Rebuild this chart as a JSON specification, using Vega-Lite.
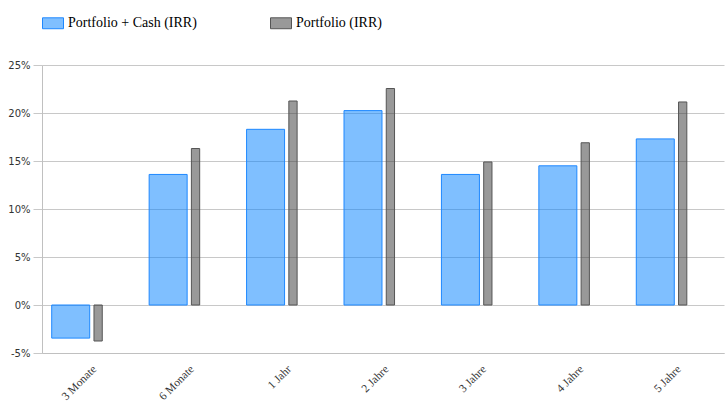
{
  "$schema": "https://vega.github.io/schema/vega-lite/v6.json",
  "width": 682,
  "height": 288,
  "autosize": "none",
  "padding": {"left": 42, "top": 65, "right": 4, "bottom": 50},
  "background": "white",
  "config": {
    "view": {"stroke": null},
    "legend": {"labelFont": "Liberation Serif", "labelFontSize": 14, "labelColor": "#000000"}
  },
  "data": {
    "values": [
      {"period": "3 Monate", "series": "Portfolio + Cash (IRR)", "irr": -3.45},
      {"period": "3 Monate", "series": "Portfolio (IRR)", "irr": -3.75},
      {"period": "6 Monate", "series": "Portfolio + Cash (IRR)", "irr": 13.6},
      {"period": "6 Monate", "series": "Portfolio (IRR)", "irr": 16.3},
      {"period": "1 Jahr", "series": "Portfolio + Cash (IRR)", "irr": 18.3},
      {"period": "1 Jahr", "series": "Portfolio (IRR)", "irr": 21.25},
      {"period": "2 Jahre", "series": "Portfolio + Cash (IRR)", "irr": 20.25},
      {"period": "2 Jahre", "series": "Portfolio (IRR)", "irr": 22.55},
      {"period": "3 Jahre", "series": "Portfolio + Cash (IRR)", "irr": 13.6},
      {"period": "3 Jahre", "series": "Portfolio (IRR)", "irr": 14.9},
      {"period": "4 Jahre", "series": "Portfolio + Cash (IRR)", "irr": 14.5},
      {"period": "4 Jahre", "series": "Portfolio (IRR)", "irr": 16.9},
      {"period": "5 Jahre", "series": "Portfolio + Cash (IRR)", "irr": 17.3},
      {"period": "5 Jahre", "series": "Portfolio (IRR)", "irr": 21.15}
    ]
  },
  "encoding": {
    "x": {
      "field": "period", "type": "nominal", "sort": null, "title": null,
      "scale": {"paddingInner": 0, "paddingOuter": 0},
      "axis": {
        "labelAngle": -45, "labelFont": "Liberation Serif", "labelFontSize": 11.5,
        "labelColor": "#333333", "labelPadding": 10, "ticks": false,
        "domainColor": "#c0c0c0", "grid": false
      }
    },
    "y": {
      "field": "irr", "type": "quantitative", "title": null,
      "scale": {"domain": [-5, 25], "nice": false, "zero": false},
      "axis": {
        "values": [-5, 0, 5, 10, 15, 20, 25],
        "labelExpr": "datum.value + '%'",
        "labelFont": "DejaVu Sans", "labelFontSize": 10, "labelColor": "#333333",
        "tickSize": 9, "tickColor": "#c8c8c8", "labelPadding": 3,
        "gridColor": "#c8c8c8", "domainColor": "#c0c0c0"
      }
    }
  },
  "layer": [
    {
      "transform": [{"filter": "datum.series === 'Portfolio + Cash (IRR)'"}],
      "mark": {"type": "bar", "width": {"band": 0.39}, "xOffset": -20, "fillOpacity": 0.5, "strokeWidth": 1},
      "encoding": {
        "fill": {
          "field": "series", "type": "nominal",
          "scale": {"domain": ["Portfolio + Cash (IRR)", "Portfolio (IRR)"], "range": ["#0080ff", "#333333"]},
          "legend": {
            "title": null, "orient": "top", "direction": "horizontal", "offset": 34,
            "symbolType": "M-1,-0.52H1V0.52H-1Z", "symbolSize": 441, "symbolStrokeWidth": 1,
            "labelOffset": 4, "columnPadding": 71,
            "encode": {"symbols": {"update": {"fillOpacity": {"value": 0.5}}}}
          }
        },
        "stroke": {
          "field": "series", "type": "nominal",
          "scale": {"domain": ["Portfolio + Cash (IRR)", "Portfolio (IRR)"], "range": ["#1e88ff", "#555555"]},
          "legend": {
            "title": null, "orient": "top", "direction": "horizontal", "offset": 34,
            "symbolType": "M-1,-0.52H1V0.52H-1Z", "symbolSize": 441, "symbolStrokeWidth": 1,
            "labelOffset": 4, "columnPadding": 71,
            "encode": {"symbols": {"update": {"fillOpacity": {"value": 0.5}}}}
          }
        }
      }
    },
    {
      "transform": [{"filter": "datum.series === 'Portfolio (IRR)'"}],
      "mark": {"type": "bar", "width": {"band": 0.085}, "xOffset": 7.4, "fillOpacity": 0.5, "strokeWidth": 1},
      "encoding": {
        "fill": {"field": "series", "type": "nominal"},
        "stroke": {"field": "series", "type": "nominal"}
      }
    },
    {
      "mark": {"type": "rule", "color": "#333333", "strokeWidth": 1},
      "encoding": {"y": {"datum": 0}}
    }
  ]
}
